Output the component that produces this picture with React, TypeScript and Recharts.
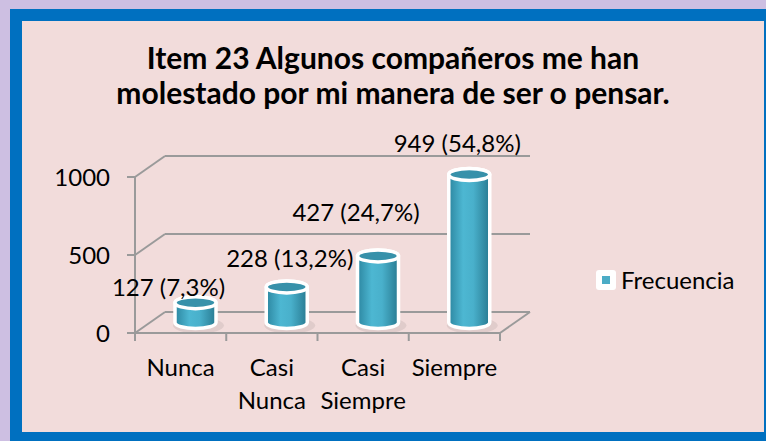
import React from 'react';
import { BarChart, Bar, XAxis, YAxis, Legend, LabelList, usePlotArea } from 'recharts';

const categories = ['Nunca', 'Casi Nunca', 'Casi Siempre', 'Siempre'];
const frecuencia = [127, 228, 427, 949];
const porcentajes = ['7,3%', '13,2%', '24,7%', '54,8%'];
const yTicks = [0, 500, 1000];
const seriesName = 'Frecuencia';
const titleLines = ['Item 23 Algunos compañeros me han', 'molestado por mi manera de ser o pensar.'];

const data = categories.map((c, i) => ({ name: c, value: frecuencia[i] }));

// styling constants
const FONT = 'Lato, "Open Sans", sans-serif';
const FS = 24;
const DEPTH_DX = 30;
const DEPTH_DY = -21;
const MID_DX = DEPTH_DX / 2;
const MID_DY = DEPTH_DY / 2;
const GRID = '#9a9a9a';
const BAR = '#4bacc6';
const labelNudges = [
  { dx: -27, dy: -16 },
  { dx: 3, dy: -29 },
  { dx: -22, dy: -44 },
  { dx: -12, dy: -32 },
];

function Walls() {
  const area = usePlotArea();
  if (!area) return null;
  const { x, y, width, height } = area;
  const max = yTicks[yTicks.length - 1];
  const toY = (v: number) => y + height - (v / max) * height;
  const bottom = y + height;
  const bw = width / categories.length;
  const lines: React.ReactNode[] = [];
  yTicks.forEach((v, i) => {
    const yy = toY(v);
    lines.push(<line key={'d' + i} x1={x} y1={yy} x2={x + DEPTH_DX} y2={yy + DEPTH_DY} stroke={GRID} strokeWidth={2} />);
    lines.push(<line key={'b' + i} x1={x + DEPTH_DX} y1={yy + DEPTH_DY} x2={x + width + DEPTH_DX} y2={yy + DEPTH_DY} stroke={GRID} strokeWidth={2} />);
  });
  lines.push(<line key="rf" x1={x + width} y1={bottom} x2={x + width + DEPTH_DX} y2={bottom + DEPTH_DY} stroke={GRID} strokeWidth={2} />);
  for (let i = 0; i <= categories.length; i++) {
    lines.push(<line key={'t' + i} x1={x + i * bw} y1={bottom} x2={x + i * bw} y2={bottom + 8} stroke={GRID} strokeWidth={2} />);
  }
  return <g>{lines}</g>;
}

function Cylinder(props: any) {
  const { x, y, width, height } = props;
  if (width == null || height == null) return null;
  const rx = width / 2;
  const ry = 6;
  const cx = x + width / 2 + MID_DX;
  const top = y + MID_DY;
  const bottom = y + height + MID_DY;
  const body = `M${cx - rx},${top} L${cx - rx},${bottom} A${rx},${ry} 0 0 0 ${cx + rx},${bottom} L${cx + rx},${top} A${rx},${ry} 0 0 0 ${cx - rx},${top} Z`;
  return (
    <g>
      <ellipse cx={cx + 3} cy={bottom + 3} rx={rx + 5} ry={ry + 2} fill="#000" opacity={0.07} />
      <path d={body} fill="url(#cylGrad)" stroke="#fff" strokeWidth={3.5} />
      <ellipse cx={cx} cy={top} rx={rx} ry={ry} fill="#3791aa" stroke="#fff" strokeWidth={3.5} />
    </g>
  );
}

function BarLabel(props: any) {
  const { x, y, width, index, value } = props;
  const n = labelNudges[index] || { dx: 0, dy: -20 };
  const cx = x + width / 2 + MID_DX + n.dx;
  const cy = y + MID_DY + n.dy;
  return (
    <text x={cx} y={cy} textAnchor="middle" dominantBaseline="central" fontFamily={FONT} fontSize={FS} fill="#000">
      {`${value} (${porcentajes[index]})`}
    </text>
  );
}

function XTick(props: any) {
  const { x, y, payload } = props;
  const words = String(payload.value).split(' ');
  return (
    <text x={x} y={y} textAnchor="middle" fontFamily={FONT} fontSize={FS} fill="#000">
      {words.map((w, i) => (
        <tspan key={i} x={x} y={y + 43 + i * 33}>{w}</tspan>
      ))}
    </text>
  );
}

function LegendContent(props: any) {
  const item = (props.payload && props.payload[0]) || { value: seriesName, color: BAR };
  return (
    <div style={{ display: 'flex', alignItems: 'center', fontFamily: FONT, fontSize: FS, color: '#000', whiteSpace: 'nowrap', width: 'max-content' }}>
      <div style={{ width: 20, height: 20, flexShrink: 0, background: '#fff', borderRadius: 3, display: 'flex', alignItems: 'center', justifyContent: 'center', marginRight: 5 }}>
        <div style={{ width: 8, height: 8, background: BAR }} />
      </div>
      <span>{item.value}</span>
    </div>
  );
}

export default function App() {
  return (
    <div style={{ position: 'fixed', left: 0, top: 0, width: 766, height: 441, background: '#cdbfe2', overflow: 'hidden' }}>
      <div style={{ position: 'absolute', left: 10, top: 9, width: 756, height: 432, background: '#0070c0' }} />
      <div style={{ position: 'absolute', left: 22, top: 21, width: 742, height: 411, background: '#f2dcdb' }} />
      <div style={{ position: 'absolute', left: 0, top: 40, width: 786, textAlign: 'center', fontFamily: FONT, fontWeight: 700, fontSize: 30, lineHeight: '35px', color: '#000' }}>
        {titleLines.map((t, i) => (<div key={i}>{t}</div>))}
      </div>
      <div style={{ position: 'absolute', left: 0, top: 0 }}>
        <BarChart width={766} height={441} data={data} margin={{ top: 177, left: 35, right: 266, bottom: 48 }} barSize={41}>
          <defs>
            <linearGradient id="cylGrad" x1="0" y1="0" x2="1" y2="0">
              <stop offset="0%" stopColor="#2c86a0" />
              <stop offset="35%" stopColor="#4db7d2" />
              <stop offset="60%" stopColor="#49b0cb" />
              <stop offset="100%" stopColor="#287a91" />
            </linearGradient>
          </defs>
          <Walls />
          <XAxis dataKey="name" height={60} axisLine={{ stroke: GRID, strokeWidth: 2 }} tickLine={false} tickSize={0} tickMargin={0} tick={<XTick />} interval={0} />
          <YAxis domain={[0, 1000]} ticks={yTicks} width={100} axisLine={{ stroke: GRID, strokeWidth: 2 }} tickLine={{ stroke: GRID, strokeWidth: 2 }} tickSize={8} tickMargin={17} tick={{ fontFamily: FONT, fontSize: FS, fill: '#000' }} />
          <Bar dataKey="value" name={seriesName} fill={BAR} shape={<Cylinder />} isAnimationActive={false}>
            <LabelList dataKey="value" content={<BarLabel />} />
          </Bar>
          <Legend layout="horizontal" verticalAlign="middle" align="right" content={<LegendContent />} wrapperStyle={{ position: 'absolute', left: 596, top: 265, width: 0, height: 0, overflow: 'visible' }} />
        </BarChart>
      </div>
    </div>
  );
}
